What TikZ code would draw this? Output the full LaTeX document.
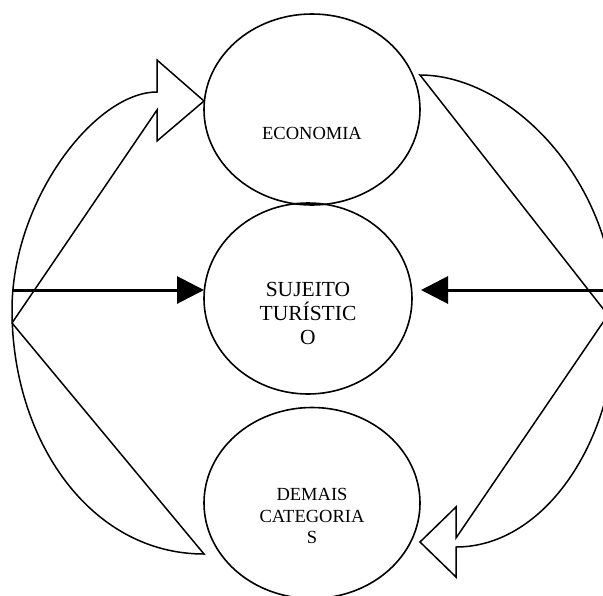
\documentclass[tikz,border=0pt]{standalone}
\usepackage{fontspec}
\setmainfont{Liberation Serif}
\usetikzlibrary{arrows.meta,shapes.geometric}
\begin{document}
\begin{tikzpicture}[x=1pt,y=-1pt,
  ell/.style={draw,ellipse,line width=1.6pt,inner sep=0pt},
  curv/.style={draw,line width=1.5pt,line join=miter},
  harrow/.style={line width=3pt,-{Triangle[length=27pt,width=27pt]}},
  lbl/.style={align=center,inner sep=0pt}]
\useasboundingbox (0,0) rectangle (603,595);
\clip (0,0) rectangle (603,595);
% ellipses
\node[ell,minimum width=216pt,minimum height=191pt] (econ) at (312,109.5) {};
\node[ell,minimum width=208pt,minimum height=191pt] (suj) at (308,298.5) {};
\node[ell,minimum width=216pt,minimum height=191pt] (dem) at (312,503) {};
% labels
\node[lbl,font=\fontsize{18.5}{21}\selectfont] (econt) at (312,133.7) {ECONOMIA};
\node[lbl,font=\fontsize{21.5}{24}\selectfont] (sujt) at (308,313) {SUJEITO\\TURÍSTIC\\O};
\node[lbl,font=\fontsize{18.5}{21.5}\selectfont] (demt) at (312,516) {DEMAIS\\CATEGORIA\\S};
% left curved block arrow
\coordinate (LA) at (204,101);
\coordinate (LB) at (157,60);
\coordinate (LC) at (157,92);
\coordinate (LE) at (157,141);
\coordinate (LF) at (157,110);
\coordinate (LV) at (12,323);
\coordinate (LD) at (204,554);
\draw[curv] (LC) -- (LB) -- (LA) -- (LE) -- (LF) -- (LV) -- (LD)
  .. controls (90,554) and (12,440) .. (12,310)
  .. controls (12,200) and (95,92) .. (LC) -- cycle;
% right curved block arrow
\coordinate (RT) at (420,75);
\coordinate (RV) at (608,315);
\coordinate (RF) at (456,538);
\coordinate (RB) at (456,507);
\coordinate (RA) at (420,542);
\coordinate (RE) at (456,577);
\coordinate (RC) at (456,547);
\draw[curv] (RT) -- (RV) -- (RF) -- (RB) -- (RA) -- (RE) -- (RC)
  .. controls (545,547) and (616,440) .. (616,320)
  .. controls (616,180) and (510,75) .. (RT) -- cycle;
% horizontal arrows
\coordinate (lh0) at (12,290);
\coordinate (lh1) at (204,290);
\coordinate (rh0) at (610,290);
\coordinate (rh1) at (421,290);
\draw[harrow] (lh0) -- (lh1);
\draw[harrow] (rh0) -- (rh1);
\end{tikzpicture}
\end{document}
